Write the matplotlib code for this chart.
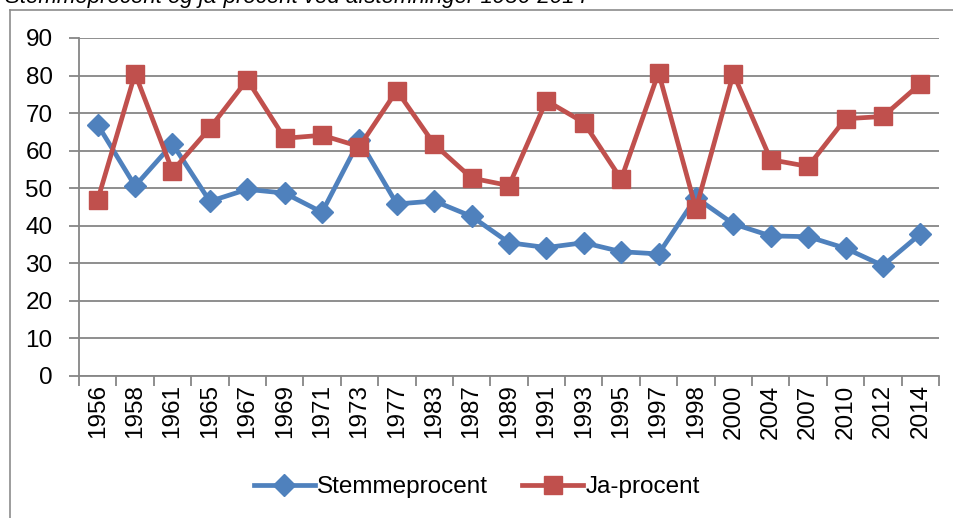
import matplotlib
matplotlib.use("Agg")
from matplotlib import pyplot as plt
from matplotlib.lines import Line2D

# Data
years = ['1956', '1958', '1961', '1965', '1967', '1969', '1971', '1973', '1977',
         '1983', '1987', '1989', '1991', '1993', '1995', '1997', '1998', '2000',
         '2004', '2007', '2010', '2012', '2014']
stemmeprocent = [66.9, 50.6, 61.8, 46.5, 49.7, 48.7, 43.6, 62.8, 45.8,
                 46.6, 42.5, 35.5, 34.2, 35.5, 33.1, 32.5, 47.5, 40.5,
                 37.3, 37.1, 34.0, 29.4, 37.8]
ja_procent = [46.9, 80.5, 54.6, 66.0, 78.9, 63.3, 64.1, 61.1, 76.0,
              61.7, 52.7, 50.7, 73.3, 67.5, 52.4, 80.8, 44.5, 80.5,
              57.6, 55.8, 68.5, 69.1, 77.8]
yticks = [0, 10, 20, 30, 40, 50, 60, 70, 80, 90]

blue = '#4F81BD'
red = '#C0504D'
grid = '#868686'

plt.rcParams['font.family'] = ['Liberation Sans', 'DejaVu Sans']

W, H = 954, 518
fig = plt.figure(figsize=(W / 100, H / 100), dpi=100)

# chart frame (left and top edges visible)
fig.add_artist(Line2D([10 / W, 10 / W], [0, 1 - 10 / H], transform=fig.transFigure,
                      color='#8c8c8c', lw=1.2))
fig.add_artist(Line2D([10 / W, 1], [1 - 10 / H, 1 - 10 / H], transform=fig.transFigure,
                      color='#8c8c8c', lw=1.2))

# title, partly cut off at the top as in the source
fig.text(5 / W, 1 - 3 / H, 'Stemmeprocent og ja-procent ved afstemninger 1956-2014',
         fontsize=16, style='italic', va='baseline', ha='left')

ax = fig.add_axes([79 / W, 142 / H, 860 / W, 338 / H])
x = list(range(len(years)))

ax.plot(x, stemmeprocent, color=blue, lw=3.4, marker='D', markersize=11,
        label='Stemmeprocent', zorder=3)
ax.plot(x, ja_procent, color=red, lw=3.4, marker='s', markersize=13.5,
        label='Ja-procent', zorder=4)

ax.set_xlim(-0.5, len(years) - 0.5)
ax.set_ylim(0, 90)
ax.set_yticks(yticks)
ax.yaxis.grid(True, color=grid, lw=1.3)
ax.set_axisbelow(True)

for s in ['top', 'right']:
    ax.spines[s].set_visible(False)
for s in ['left', 'bottom']:
    ax.spines[s].set_color(grid)
    ax.spines[s].set_linewidth(1.3)

# category boundaries carry the tick marks, centres carry the labels
ax.set_xticks([i - 0.5 for i in range(len(years) + 1)])
ax.set_xticklabels([])
ax.set_xticks(x, minor=True)
ax.set_xticklabels(years, minor=True, rotation=90, fontsize=17.5)
ax.tick_params(axis='x', which='major', length=7, color=grid, width=1.3)
ax.tick_params(axis='x', which='minor', length=0, pad=6)
ax.tick_params(axis='y', length=7, color=grid, width=1.3, labelsize=17.5, pad=12)

fig.legend(loc='center', bbox_to_anchor=(0.5, 31 / H), ncol=2, frameon=False,
           fontsize=17.5, handlelength=2.5, columnspacing=1.4, handletextpad=0.1)

fig.savefig('out.png', dpi=100)
